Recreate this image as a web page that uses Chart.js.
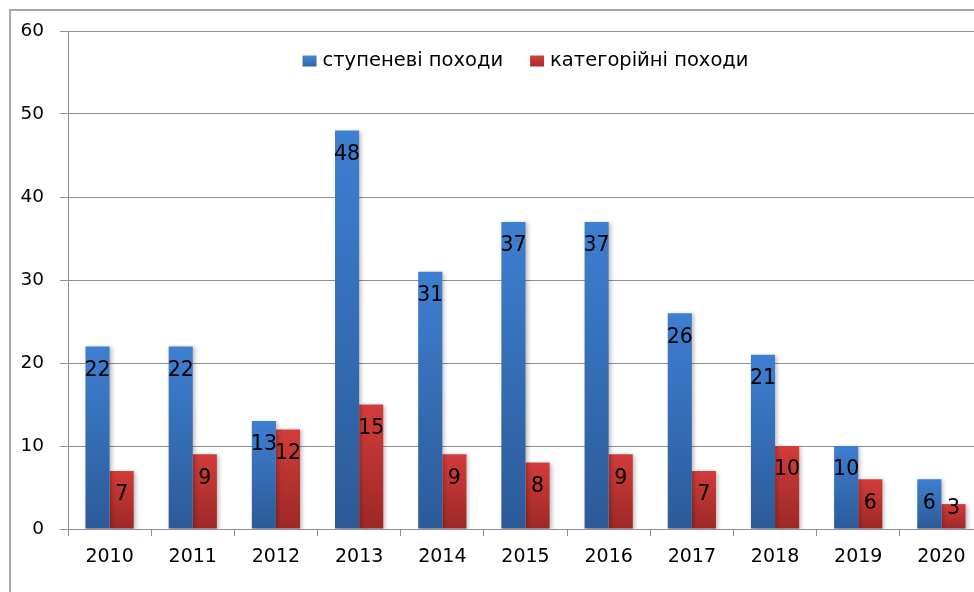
<!DOCTYPE html>
<html>
<head>
<meta charset="utf-8">
<script src="https://cdn.jsdelivr.net/npm/chart.js@4.4.0/dist/chart.umd.min.js"></script>
<style>
  html, body { margin: 0; padding: 0; background: #fff; overflow: hidden; width: 974px; height: 592px; }
  #frame { position: absolute; left: 9px; top: 9px; width: 1000px; height: 700px; border: 2px solid #a6a6a6; box-sizing: border-box; }
  #wrap { position: absolute; left: 0; top: 0; width: 992px; height: 592px; }
</style>
</head>
<body>
<div id="frame"></div>
<div id="wrap"><canvas id="c" width="992" height="592"></canvas></div>
<script>
const categories = ['2010','2011','2012','2013','2014','2015','2016','2017','2018','2019','2020'];
const stepHikes = [22,22,13,48,31,37,37,26,21,10,6];
const categoryHikes = [7,9,12,15,9,8,9,7,10,6,3];
const seriesNames = ['ступеневі походи','категорійні походи'];
const yTicks = [0,10,20,30,40,50,60];

const FONT = "'DejaVu Sans', Verdana, sans-serif";
const GRID = '#8f8f8f';

function grad(top, bottom) {
  return function(ctx) {
    const chart = ctx.chart;
    if (!chart.chartArea || ctx.raw === undefined) return top;
    const y = chart.scales.y;
    const t = y.getPixelForValue(ctx.raw), b = y.getPixelForValue(0);
    const g = chart.ctx.createLinearGradient(0, t, 0, b);
    g.addColorStop(0, top);
    g.addColorStop(1, bottom);
    return g;
  };
}

const shadowPlugin = {
  id: 'shadow',
  beforeDatasetsDraw(chart) {
    const c = chart.ctx; c.save();
    c.shadowColor = 'rgba(0,0,0,0.25)'; c.shadowBlur = 4; c.shadowOffsetX = 2; c.shadowOffsetY = 1;
  },
  afterDatasetsDraw(chart) { chart.ctx.restore(); }
};

const labelPlugin = {
  id: 'vals',
  afterDraw(chart) {
    const c = chart.ctx;
    c.save();
    c.font = '20.5px ' + FONT;
    c.fillStyle = '#000';
    c.textAlign = 'center';
    c.textBaseline = 'middle';
    chart.data.datasets.forEach((ds, i) => {
      chart.getDatasetMeta(i).data.forEach((el, j) => {
        const cy = Math.min(el.y + 24, el.base - 20);
        c.fillText(String(ds.data[j]), el.x, cy);
      });
    });
    c.restore();
  }
};

const legendPlugin = {
  id: 'legendIn',
  afterDraw(chart) {
    const c = chart.ctx, a = chart.chartArea;
    c.save();
    c.font = '19.5px ' + FONT;
    c.textBaseline = 'middle';
    const boxW = 14, boxH = 11, gap = 6, itemGap = 27;
    const widths = chart.data.datasets.map(d => c.measureText(d.label).width);
    const total = widths.reduce((s, w) => s + boxW + gap + w, 0) + itemGap * (widths.length - 1);
    let x = (a.left + a.right) / 2 - total / 2;
    const y = 61;
    const cols = [['#4a88d6','#2f62a8'], ['#d6403d','#a82c2a']];
    chart.data.datasets.forEach((d, i) => {
      const g = c.createLinearGradient(0, y - boxH/2, 0, y + boxH/2);
      g.addColorStop(0, cols[i][0]); g.addColorStop(1, cols[i][1]);
      c.fillStyle = g;
      c.fillRect(x, y - boxH/2, boxW, boxH);
      x += boxW + gap;
      c.fillStyle = '#000';
      c.fillText(d.label, x, y);
      x += widths[i] + itemGap;
    });
    c.restore();
  }
};

new Chart(document.getElementById('c'), {
  type: 'bar',
  data: {
    labels: categories,
    datasets: [
      { label: seriesNames[0], data: stepHikes, backgroundColor: grad('#3e7fd1', '#2c5a98'), borderWidth: 0 },
      { label: seriesNames[1], data: categoryHikes, backgroundColor: grad('#d23c3a', '#9d2826'), borderWidth: 0 }
    ]
  },
  options: {
    responsive: false,
    animation: false,
    events: [],
    layout: { padding: { top: 31, right: 9, bottom: 0, left: 0 } },
    datasets: { bar: { categoryPercentage: 0.58, barPercentage: 1.0 } },
    plugins: { legend: { display: false }, tooltip: { enabled: false } },
    scales: {
      x: {
        grid: { display: true, drawOnChartArea: false, drawTicks: true, tickLength: 7, color: GRID, lineWidth: 1 },
        border: { display: true, color: GRID, width: 1 },
        ticks: { font: { family: FONT, size: 19 }, color: '#000', padding: 10 },
        afterFit(s) { s.height = 63; }
      },
      y: {
        min: 0, max: 60,
        afterBuildTicks(s) { s.ticks = yTicks.map(v => ({ value: v })); },
        grid: { color: GRID, lineWidth: 1, tickLength: 8, drawTicks: true },
        border: { display: true, color: GRID, width: 1 },
        ticks: { font: { family: FONT, size: 18.5 }, color: '#000', padding: 16 },
        afterFit(s) { s.width = 68; }
      }
    }
  },
  plugins: [shadowPlugin, labelPlugin, legendPlugin]
});
</script>
</body>
</html>
